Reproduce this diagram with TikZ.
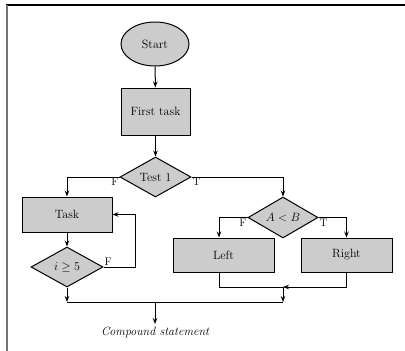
\documentclass[tikz,border=0pt]{standalone}
\usetikzlibrary{shapes.geometric,arrows.meta}
\begin{document}
\begin{tikzpicture}[x=1pt,y=-1pt,
  every node/.style={font=\fontsize{12}{14}\selectfont},
  blk/.style={draw, line width=1pt, fill=black!20, rectangle, inner sep=0pt},
  dia/.style={draw, line width=1pt, fill=black!20, diamond, aspect=1.75, inner sep=0pt, minimum width=71pt, minimum height=40pt},
  ell/.style={draw, line width=1pt, fill=black!20, ellipse, minimum width=68pt, minimum height=44pt, inner sep=0pt},
  con/.style={line width=1pt},
  arr/.style={con, -{Stealth[length=6pt,width=4.5pt]}},
  lab/.style={font=\fontsize{11}{12}\selectfont, inner sep=1pt}
]
\useasboundingbox (0,0) rectangle (405,351);
\draw[line width=1.4pt] (6,5) -- (405,5);
\draw[line width=2pt, black!55] (7,5) -- (7,351);

\node[ell] (start) at (155,44) {Start};
\node[blk, minimum width=69pt, minimum height=47pt] (first) at (155.5,111.5) {First task};
\node[dia] (test) at (155.5,177) {Test 1};
\node[blk, minimum width=90pt, minimum height=35pt] (task) at (67,214.5) {Task};
\node[dia, minimum width=72pt] (ige) at (67,267) {$i\geq 5$};
\node[dia, minimum width=70pt, minimum height=41pt] (ab) at (283,217.5) {$A<B$};
\node[blk, minimum width=101pt, minimum height=34pt] (left) at (223.5,255) {Left};
\node[blk, minimum width=91pt, minimum height=34pt] (right) at (346.5,255) {Right};
\node[font=\itshape\fontsize{12}{14}\selectfont] (comp) at (155,332) {Compound statement};

\coordinate (jl) at (67,302);
\coordinate (jm) at (155,302);
\coordinate (jr) at (283,302);
\coordinate (lr) at (283,287);
\coordinate (loop) at (135,267);

\draw[arr] (start) -- (first);
\draw[arr] (first) -- (test);
\draw[arr] (test.west) -| (task.north);
\draw[arr] (test.east) -| (ab.north);
\draw[arr] (task) -- (ige);
\draw[arr] (ige.east) -- (loop) |- (task.east);
\draw[arr] (ab.west) -| ([xshift=-4.5pt]left.north);
\draw[arr] (ab.east) -| (right.north);
\draw[arr] (ige.south) -- (jl);
\draw[con] ([xshift=-4.5pt]left.south) |- (lr);
\draw[arr] (right.south) |- (lr);
\draw[arr] (lr) -- (jr);
\draw[con] (jl) -- (jr);
\draw[arr] (jm) -- ([yshift=-1pt]comp.north);

\node[lab, anchor=north east] at (test.west) {F};
\node[lab, anchor=north west] at (test.east) {T};
\node[lab, anchor=north east] at (ab.west) {F};
\node[lab, anchor=north west] at (ab.east) {T};
\node[lab, anchor=south west] at (ige.east) {F};
\end{tikzpicture}
\end{document}
